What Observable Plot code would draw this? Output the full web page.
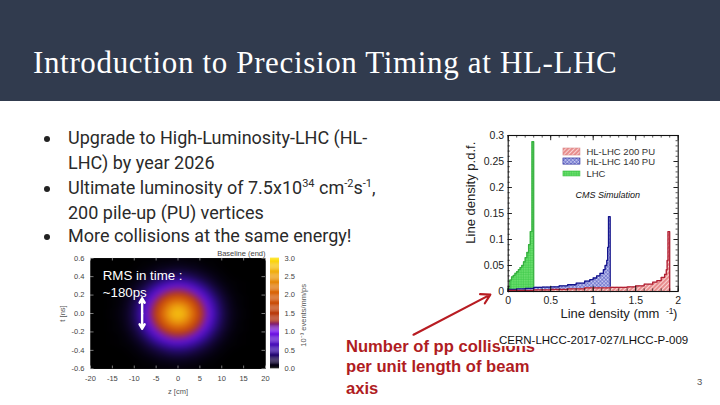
<!DOCTYPE html>
<html><head><meta charset="utf-8">
<script src="https://cdn.jsdelivr.net/npm/d3@7"></script>
<script src="https://cdn.jsdelivr.net/npm/@observablehq/plot@0.6"></script>
<style>
html,body{margin:0;padding:0;background:#fff}
#slide{position:relative;width:720px;height:405px;overflow:hidden;background:#fff;font-family:Roboto,sans-serif}
#head{position:absolute;left:0;top:0;width:720px;height:101px;background:#313b4e}
#title{position:absolute;left:33px;top:44px;color:#fff;font:31px/38px "Liberation Serif",serif;letter-spacing:.65px;white-space:nowrap}
.ln{position:absolute;left:68px;color:#2a2a2a;font:18px/22px Roboto,sans-serif;white-space:nowrap}
.bu{position:absolute;left:44px;width:6px;height:6px;border-radius:50%;background:#222}
sup{font-size:11px;line-height:0}
.red{position:absolute;left:346px;color:#b01c22;font:bold 16.6px/22px "Liberation Sans",sans-serif;white-space:nowrap}
#ref{position:absolute;left:499px;top:334px;font:11.5px/12px "Liberation Sans",sans-serif;color:#111;white-space:nowrap;background:#fff}
#page{position:absolute;left:697px;top:376px;font:9.5px/12px "Liberation Sans",sans-serif;color:#555}
.pl{position:absolute}
.pl svg{background:transparent;overflow:visible;display:block}
</style></head><body>
<svg width="0" height="0" style="position:absolute"><defs>
<pattern id="hRed" width="3" height="3" patternUnits="userSpaceOnUse" patternTransform="rotate(-45)"><rect width="3" height="3" fill="#f8d4d4"/><line x1="0" y1="1" x2="3" y2="1" stroke="#d94848" stroke-width="1"/></pattern>
<pattern id="hBlue" width="2.6" height="2.6" patternUnits="userSpaceOnUse" patternTransform="rotate(45)"><rect width="2.6" height="2.6" fill="#dadcf6"/><path d="M0 1H2.6M1 0V2.6" stroke="#4a50c0" stroke-width="0.7"/></pattern>
<pattern id="hGreen" width="2.4" height="2.4" patternUnits="userSpaceOnUse"><rect width="2.4" height="2.4" fill="#6ee070"/><path d="M0 1H2.4M1 0V2.4" stroke="#3cc848" stroke-width="0.6"/></pattern>
</defs></svg>
<div id="slide">
<div id="head"></div>
<div id="title">Introduction to Precision Timing at HL-LHC</div>
<div class="bu" style="top:136px"></div><div class="ln" style="top:127px">Upgrade to High-Luminosity-LHC (HL-</div>
<div class="ln" style="top:152px">LHC) by year 2026</div>
<div class="bu" style="top:186px"></div><div class="ln" style="top:177px">Ultimate luminosity of 7.5x10<sup>34</sup> cm<sup>-2</sup>s<sup>-1</sup>,</div>
<div class="ln" style="top:202px">200 pile-up (PU) vertices</div>
<div class="bu" style="top:234px"></div><div class="ln" style="top:225px">More collisions at the same energy!</div>
<div class="red" style="top:336px">Number of pp collisions</div>
<div class="red" style="top:356px">per unit length of beam</div>
<div class="red" style="top:378px">axis</div>
<div id="ref">CERN-LHCC-2017-027/LHCC-P-009</div>
<div id="page">3</div>
<div id="heat" class="pl" style="left:40px;top:245px"></div>
<div id="bar" class="pl" style="left:262px;top:245px"></div>
<div id="hist" class="pl" style="left:400px;top:120px"></div>
</div>
<script>
// ---- line density histogram (bin left edges + heights, last entry closes the outline)
const greenX=[0,.02,.04,.06,.08,.10,.12,.14,.16,.18,.20,.22,.24,.26,.28,.30];
const greenY=[.006,.022,.028,.031,.035,.038,.042,.046,.050,.057,.065,.075,.09,.115,.288,0];
const blueX=[0,.1,.2,.3,.4,.5,.6,.7,.8,.9,.96,1.0,1.04,1.08,1.12,1.14,1.16,1.17,1.18,1.2];
const blueY=[.004,.005,.006,.008,.0085,.009,.011,.013,.016,.02,.023,.026,.030,.035,.042,.05,.06,.085,.144,0];
const redX=[0,.3,.5,.7,.9,1.2,1.4,1.5,1.6,1.7,1.75,1.8,1.84,1.86,1.87,1.88,1.9];
const redY=[.002,.003,.004,.005,.007,.008,.009,.011,.014,.018,.021,.027,.033,.042,.06,.115,0];
const legendLabels=["HL-LHC 200 PU","HL-LHC 140 PU","LHC"];
const legendFill=["url(#hRed)","url(#hBlue)","url(#hGreen)"];
const legendStroke=["#d98a8a","#14148c","#42c048"];
const legendTop=[.275,.2558,.2308];
const legendBottom=[.2615,.244,.2212];
// ---- heat map: one quadrant of the symmetric picture
const zGrid=[0,2,4,6,8,10,12,14,17,20];
const tGrid=[0,.05,.1,.15,.2,.25,.3,.35,.4,.5,.6];
const heatRows=[
[2.80,2.55,1.92,1.20,.62,.26,.09,.03,0,0],
[2.71,2.47,1.86,1.16,.60,.25,.09,.03,0,0],
[2.46,2.24,1.68,1.05,.54,.23,.08,.02,0,0],
[2.08,1.90,1.43,.89,.46,.20,.07,.02,0,0],
[1.65,1.51,1.13,.71,.36,.16,.05,.02,0,0],
[1.23,1.12,.84,.53,.27,.12,.04,.01,0,0],
[.86,.78,.59,.37,.19,.08,.03,.01,0,0],
[.56,.51,.38,.24,.12,.05,.02,.01,0,0],
[.34,.31,.23,.15,.08,.03,.01,0,0,0],
[.10,.09,.07,.04,.02,.01,0,0,0,0],
[.03,.02,.02,.01,.01,0,0,0,0,0]];
const colorStops=[0,.25,.5,1,1.15,1.3,2,2.5,3];
const colorValues=["#000000","#1c0a50","#3a0ea8","#7a18ee","#7a2090","#b03010","#d86008","#eda010","#ffe510"];

const sans='"Liberation Sans",sans-serif';
const pts=(xs,ys)=>xs.map((x,i)=>({x,y:ys[i]}));
const green=pts(greenX,greenY),blue=pts(blueX,blueY),red=pts(redX,redY);
const outline=(d,fill,stroke)=>[
  Plot.areaY(d,{x:"x",y:"y",curve:"step-after",fill}),
  Plot.lineY([{x:d[0].x,y:0},...d],{x:"x",y:"y",curve:"step-after",stroke,strokeWidth:1.3})
];
const T=[{x:-1.114,y:-.083}];
const majY=d3.range(0,.301,.05),minY=d3.range(0,.3001,.01);
const majX=[0,.5,1,1.5,2],minX=d3.range(0,2.01,.1);
document.getElementById("hist").append(Plot.plot({
  width:300,height:225,marginLeft:107.7,marginRight:22.3,marginTop:15,marginBottom:54,
  style:{fontFamily:sans,fontSize:"11px",color:"#222"},
  x:{domain:[0,2],axis:null},y:{domain:[0,.3],axis:null},
  marks:[
    ...outline(green,"url(#hGreen)","#37b040"),
    ...outline(blue,"url(#hBlue)","#14148c"),
    ...outline(red,"url(#hRed)","#b02034"),
    Plot.frame({stroke:"#111",strokeWidth:1.1}),
    Plot.ruleY(minY,{y:d=>d,x1:0,x2:.025,stroke:"#111",strokeWidth:.7}),
    Plot.ruleY(minY,{y:d=>d,x1:1.975,x2:2,stroke:"#111",strokeWidth:.7}),
    Plot.ruleX(minX,{x:d=>d,y1:0,y2:.005,stroke:"#111",strokeWidth:.7}),
    Plot.ruleX(minX,{x:d=>d,y1:.295,y2:.3,stroke:"#111",strokeWidth:.7}),
    Plot.ruleY(majY,{y:d=>d,x1:0,x2:.05,stroke:"#111",strokeWidth:.9}),
    Plot.ruleY(majY,{y:d=>d,x1:1.95,x2:2,stroke:"#111",strokeWidth:.9}),
    Plot.ruleX(majX,{x:d=>d,y1:0,y2:.01,stroke:"#111",strokeWidth:.9}),
    Plot.ruleX(majX,{x:d=>d,y1:.29,y2:.3,stroke:"#111",strokeWidth:.9}),
    Plot.text(majY,{x:0,y:d=>d,text:d=>String(+d.toFixed(2)),textAnchor:"end",dx:-4,fontSize:10.5,fill:"#222"}),
    Plot.text(majX,{x:d=>d,y:0,text:d=>String(d),dy:9,fontSize:10.5,fill:"#222"}),
    Plot.text(["Line density p.d.f."],{x:0,y:.19,dx:-37,rotate:-90,fontSize:13,fill:"#222"}),
    Plot.text(["Line density (mm"],{x:.615,y:0,dy:22,textAnchor:"start",fontSize:13,fill:"#222"}),
    Plot.text(["-1"],{x:1.855,y:0,dy:20,textAnchor:"start",fontSize:8.5,fill:"#222"}),
    Plot.text([")"],{x:1.94,y:0,dy:22,textAnchor:"start",fontSize:13,fill:"#222"}),
    Plot.rect(legendLabels,{x1:.65,x2:.85,y1:(d,i)=>legendBottom[i],y2:(d,i)=>legendTop[i],fill:(d,i)=>legendFill[i],stroke:(d,i)=>legendStroke[i],strokeWidth:.6}),
    Plot.text(legendLabels,{x:.92,y:(d,i)=>(legendTop[i]+legendBottom[i])/2,text:d=>d,textAnchor:"start",fontSize:9.5,fill:"#333"}),
    Plot.text(["CMS Simulation"],{x:1.17,y:.186,fontSize:9,fontStyle:"italic",fill:"#111",letterSpacing:".5px"}),
    Plot.arrow(T,{x1:"x",y1:"y",x2:-.21,y2:-.006,bend:0,stroke:"#b81c22",strokeWidth:2.2,headLength:7,clip:false})
  ]
}));

// heat map
const heat=[];
tGrid.forEach((t,j)=>zGrid.forEach((z,i)=>{
  for(const sz of z?[-1,1]:[1]) for(const st of t?[-1,1]:[1]) heat.push({z:sz*z,t:st*t,v:heatRows[j][i]});
}));
const colorScale={type:"linear",domain:colorStops,range:colorValues,interpolate:"rgb",legend:false};
const zTicks=[-20,-15,-10,-5,0,5,10,15,20],tTicks=[-.6,-.4,-.2,0,.2,.4,.6];
document.getElementById("heat").append(Plot.plot({
  width:240,height:150,marginLeft:50,marginRight:15,marginTop:12.7,marginBottom:26.7,
  style:{fontFamily:sans,fontSize:"7.5px",color:"#444"},
  x:{domain:[-20,20],axis:null},y:{domain:[-.6,.6],axis:null},color:colorScale,
  marks:[
    Plot.frame({fill:"#000"}),
    Plot.raster(heat,{x:"z",y:"t",fill:"v",interpolate:"barycentric",pixelSize:1,blur:3}),
    Plot.ruleX(zTicks,{x:d=>d,y1:-.6,y2:-.57,stroke:"#ccc",strokeWidth:.6}),
    Plot.ruleX(zTicks,{x:d=>d,y1:.57,y2:.6,stroke:"#ccc",strokeWidth:.6}),
    Plot.ruleY(tTicks,{y:d=>d,x1:-20,x2:-19.2,stroke:"#ccc",strokeWidth:.6}),
    Plot.ruleY(tTicks,{y:d=>d,x1:19.2,x2:20,stroke:"#ccc",strokeWidth:.6}),
    Plot.text(zTicks,{x:d=>d,y:-.6,text:d=>String(d),dy:10,fill:"#444"}),
    Plot.text(tTicks,{x:-20,y:d=>d,text:d=>d.toFixed(1),textAnchor:"end",dx:-6,fill:"#444"}),
    Plot.text(["z [cm]"],{x:0,y:-.6,dy:23,fill:"#555"}),
    Plot.text(["t [ns]"],{x:-20,y:0,dx:-28,rotate:-90,fill:"#555"}),
    Plot.text(["Baseline (end)"],{x:20,y:.6,dy:-5,textAnchor:"end",fill:"#444"}),
    Plot.text(["RMS in time :","~180ps"],{x:-17.2,y:(d,i)=>i?.227:.41,text:d=>d,textAnchor:"start",fill:"#fff",fontSize:13.3}),
    Plot.arrow([0],{x1:-8.2,y1:0,x2:-8.2,y2:.165,bend:0,stroke:"#fff",strokeWidth:2.4,headLength:8}),
    Plot.arrow([0],{x1:-8.2,y1:0,x2:-8.2,y2:-.165,bend:0,stroke:"#fff",strokeWidth:2.4,headLength:8})
  ]
}));
const barTicks=[0,.5,1,1.5,2,2.5,3];
document.getElementById("bar").append(Plot.plot({
  width:60,height:150,marginLeft:8,marginRight:43,marginTop:12.7,marginBottom:26.7,
  style:{fontFamily:sans,fontSize:"7.5px",color:"#444"},
  x:{domain:[0,1],axis:null},y:{domain:[0,3],axis:null},color:colorScale,
  marks:[
    Plot.rect(d3.range(0,3,.03),{x1:0,x2:1,y1:d=>d,y2:d=>d+.031,fill:d=>d}),
    Plot.text(barTicks,{x:1,y:d=>d,text:d=>d.toFixed(1),textAnchor:"start",dx:5,fill:"#444"}),
    Plot.text(["10⁻³ events/mm/ps"],{x:1,y:1.45,dx:24,rotate:-90,fill:"#555",fontSize:7.5})
  ]
}));
</script>
</body></html>
